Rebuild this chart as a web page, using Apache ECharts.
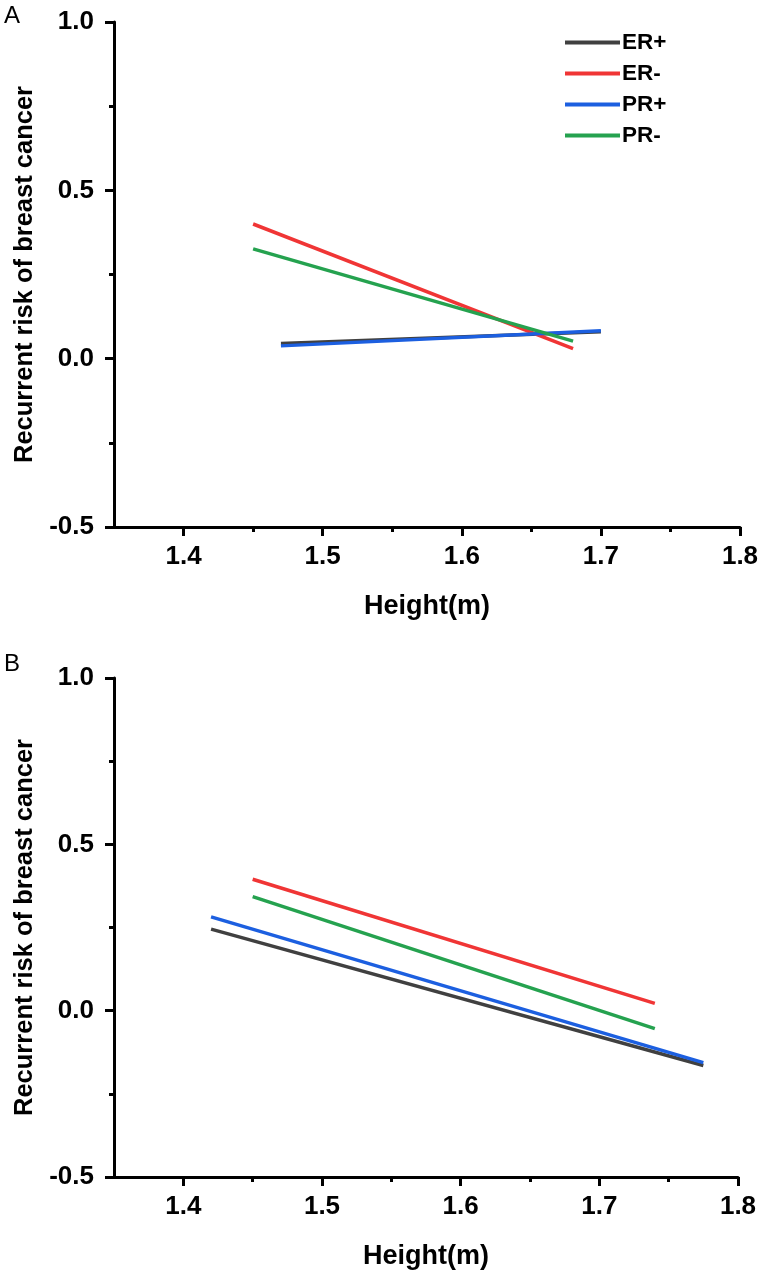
<!DOCTYPE html>
<html>
<head>
<meta charset="utf-8">
<script src="https://cdn.jsdelivr.net/npm/echarts@6/dist/echarts.min.js"></script>
<style>
html,body{margin:0;padding:0;background:#fff;}
#chart{width:766px;height:1275px;}
</style>
</head>
<body>
<div id="chart"></div>
<script>
// ---- Data ----
const seriesNames = ['ER+', 'ER-', 'PR+', 'PR-'];
const seriesColors = ['#404040', '#f03535', '#1c5fe0', '#25a24f'];

// Panel A: [start, end] heights and risks
const heightA_ERpos = [1.47, 1.70];
const riskA_ERpos   = [0.045, 0.080];
const heightA_ERneg = [1.45, 1.68];
const riskA_ERneg   = [0.400, 0.030];
const heightA_PRpos = [1.47, 1.70];
const riskA_PRpos   = [0.038, 0.083];
const heightA_PRneg = [1.45, 1.68];
const riskA_PRneg   = [0.326, 0.052];

// Panel B
const heightB_ERpos = [1.42, 1.775];
const riskB_ERpos   = [0.245, -0.165];
const heightB_ERneg = [1.45, 1.74];
const riskB_ERneg   = [0.395, 0.022];
const heightB_PRpos = [1.42, 1.775];
const riskB_PRpos   = [0.282, -0.156];
const heightB_PRneg = [1.45, 1.74];
const riskB_PRneg   = [0.343, -0.054];

const xMajorTicks = [1.4, 1.5, 1.6, 1.7, 1.8];
const xMinorTicks = [1.45, 1.55, 1.65, 1.75];
const yTicks = [-0.5, 0.0, 0.5, 1.0];

const xAxisTitle = 'Height(m)';
const yAxisTitle = 'Recurrent risk of breast cancer';
const panelLabels = ['A', 'B'];

// ---- Build ----
function pts(xs, ys) { return xs.map((x, i) => [x, ys[i]]); }
const panelA = [pts(heightA_ERpos, riskA_ERpos), pts(heightA_ERneg, riskA_ERneg), pts(heightA_PRpos, riskA_PRpos), pts(heightA_PRneg, riskA_PRneg)];
const panelB = [pts(heightB_ERpos, riskB_ERpos), pts(heightB_ERneg, riskB_ERneg), pts(heightB_PRpos, riskB_PRpos), pts(heightB_PRneg, riskB_PRneg)];

const FONT = '"Liberation Sans", Arial, sans-serif';
const axisLineStyle = { color: '#000', width: 3 };

function xAxesFor(gi) {
  return [
    {
      type: 'value', gridIndex: gi, min: 1.35, max: 1.8, position: 'bottom',
      name: xAxisTitle, nameLocation: 'middle', nameGap: 66,
      nameTextStyle: { color: '#000', fontWeight: 'bold', fontSize: 27, fontFamily: FONT },
      axisLine: { show: true, onZero: false, lineStyle: axisLineStyle },
      axisTick: { show: true, inside: false, length: 9, lineStyle: { color: '#000', width: 3 }, customValues: xMajorTicks },
      axisLabel: { show: true, margin: 17, color: '#000', fontWeight: 'bold', fontSize: 26, fontFamily: FONT, customValues: xMajorTicks, formatter: v => v.toFixed(1) },
      splitLine: { show: false }
    },
    {
      type: 'value', gridIndex: gi, min: 1.35, max: 1.8, position: 'bottom', offset: 0,
      axisLine: { show: false, onZero: false },
      axisTick: { show: true, inside: false, length: 5, lineStyle: { color: '#000', width: 3 }, customValues: xMinorTicks },
      axisLabel: { show: false },
      splitLine: { show: false }
    }
  ];
}
function yAxisFor(gi) {
  return {
    type: 'value', gridIndex: gi, min: yTicks[0], max: yTicks[yTicks.length - 1], interval: 0.5,
    name: yAxisTitle, nameLocation: 'middle', nameGap: 74,
    nameTextStyle: { color: '#000', fontWeight: 'bold', fontSize: 25.5, fontFamily: FONT },
    axisLine: { show: true, onZero: false, lineStyle: axisLineStyle },
    axisTick: { show: true, inside: false, length: 9, lineStyle: { color: '#000', width: 3 } },
    minorTick: { show: true, splitNumber: 2, length: 5, lineStyle: { color: '#000', width: 3 } },
    axisLabel: { margin: 20, color: '#000', fontWeight: 'bold', fontSize: 26, fontFamily: FONT, formatter: v => v.toFixed(1) },
    splitLine: { show: false }
  };
}

const series = [];
[panelA, panelB].forEach((panel, p) => {
  panel.forEach((data, i) => {
    series.push({
      type: 'line', name: seriesNames[i], xAxisIndex: p * 2, yAxisIndex: p,
      data: data, showSymbol: false, symbol: 'none', silent: true,
      lineStyle: { color: seriesColors[i], width: 3.5 },
      itemStyle: { color: seriesColors[i] }
    });
  });
});

const chart = echarts.init(document.getElementById('chart'), null, { renderer: 'canvas' });
chart.setOption({
  animation: false,
  backgroundColor: '#fff',
  grid: [
    { left: 114, top: 22, width: 626, height: 505 },
    { left: 114, top: 678, width: 624, height: 499 }
  ],
  xAxis: [...xAxesFor(0), ...xAxesFor(1)],
  yAxis: [yAxisFor(0), yAxisFor(1)],
  legend: {
    data: seriesNames, orient: 'vertical', left: 560, top: 26,
    icon: 'rect', itemWidth: 55, itemHeight: 4, itemGap: 8,
    textStyle: { color: '#000', fontWeight: 'bold', fontSize: 22.5, lineHeight: 22, fontFamily: FONT, padding: [0, 0, 0, -3] },
    selectedMode: false
  },
  graphic: [
    { type: 'text', left: 4, top: 4, style: { text: panelLabels[0], fontSize: 24, fontFamily: FONT, fill: '#000' } },
    { type: 'text', left: 4, top: 652, style: { text: panelLabels[1], fontSize: 24, fontFamily: FONT, fill: '#000' } }
  ],
  series: series
});
</script>
</body>
</html>
